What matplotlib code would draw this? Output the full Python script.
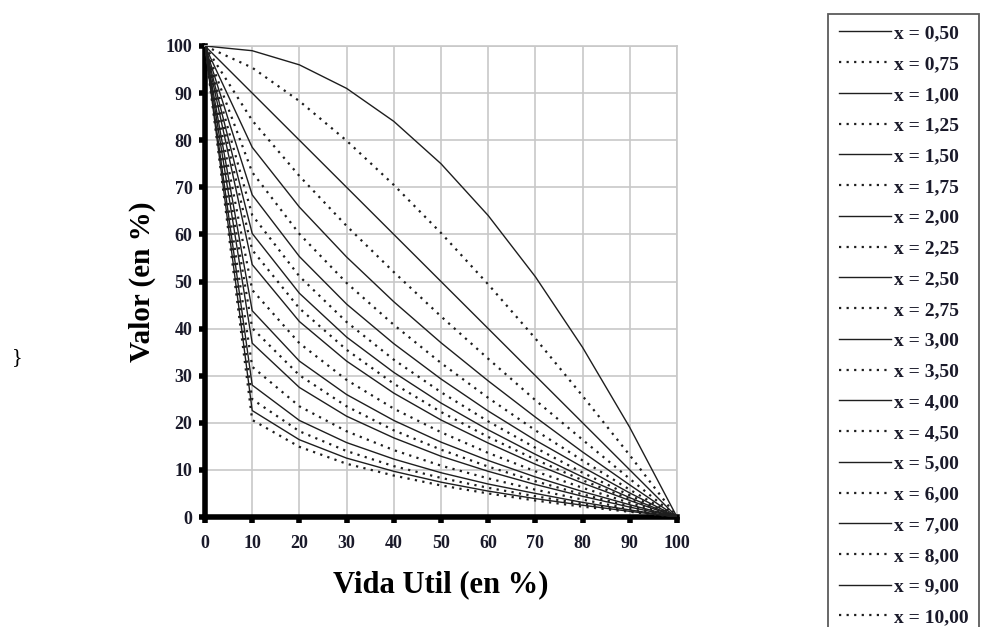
import matplotlib
matplotlib.use("Agg")
import matplotlib.pyplot as plt

plt.rcParams['font.family'] = ['Liberation Serif', 'DejaVu Serif']

vida_util = [0, 10, 20, 30, 40, 50, 60, 70, 80, 90, 100]

x_labels = ["0,50", "0,75", "1,00", "1,25", "1,50", "1,75", "2,00", "2,25", "2,50", "2,75",
            "3,00", "3,50", "4,00", "4,50", "5,00", "6,00", "7,00", "8,00", "9,00", "10,00"]

v_050 = [100, 99.0, 96.0, 91.0, 84.0, 75.0, 64.0, 51.0, 36.0, 19.0, 0]
v_075 = [100, 95.4, 88.3, 79.9, 70.5, 60.3, 49.4, 37.9, 25.7, 13.1, 0]
v_100 = [100, 90.0, 80.0, 70.0, 60.0, 50.0, 40.0, 30.0, 20.0, 10.0, 0]
v_125 = [100, 84.2, 72.4, 61.8, 52.0, 42.6, 33.6, 24.8, 16.4, 8.1, 0]
v_150 = [100, 78.5, 65.8, 55.2, 45.7, 37.0, 28.9, 21.2, 13.8, 6.8, 0]
v_175 = [100, 73.2, 60.1, 49.7, 40.8, 32.7, 25.3, 18.4, 12.0, 5.8, 0]
v_200 = [100, 68.4, 55.3, 45.2, 36.8, 29.3, 22.5, 16.3, 10.6, 5.1, 0]
v_225 = [100, 64.1, 51.1, 41.4, 33.4, 26.5, 20.3, 14.7, 9.4, 4.6, 0]
v_250 = [100, 60.2, 47.5, 38.2, 30.7, 24.2, 18.5, 13.3, 8.5, 4.1, 0]
v_275 = [100, 56.7, 44.3, 35.5, 28.3, 22.3, 17.0, 12.2, 7.8, 3.8, 0]
v_300 = [100, 53.6, 41.5, 33.1, 26.3, 20.6, 15.7, 11.2, 7.2, 3.5, 0]
v_350 = [100, 48.2, 36.9, 29.1, 23.0, 18.0, 13.6, 9.7, 6.2, 3.0, 0]
v_400 = [100, 43.8, 33.1, 26.0, 20.5, 15.9, 12.0, 8.5, 5.4, 2.6, 0]
v_450 = [100, 40.1, 30.1, 23.5, 18.4, 14.3, 10.7, 7.6, 4.8, 2.3, 0]
v_500 = [100, 36.9, 27.5, 21.4, 16.8, 12.9, 9.7, 6.9, 4.4, 2.1, 0]
v_600 = [100, 31.9, 23.5, 18.2, 14.2, 10.9, 8.2, 5.8, 3.7, 1.7, 0]
v_700 = [100, 28.0, 20.5, 15.8, 12.3, 9.4, 7.0, 5.0, 3.1, 1.5, 0]
v_800 = [100, 25.0, 18.2, 14.0, 10.8, 8.3, 6.2, 4.4, 2.8, 1.3, 0]
v_900 = [100, 22.6, 16.4, 12.5, 9.7, 7.4, 5.5, 3.9, 2.5, 1.2, 0]
v_1000 = [100, 20.6, 14.9, 11.3, 8.8, 6.7, 5.0, 3.5, 2.2, 1.1, 0]

series = [v_050, v_075, v_100, v_125, v_150, v_175, v_200, v_225, v_250, v_275,
          v_300, v_350, v_400, v_450, v_500, v_600, v_700, v_800, v_900, v_1000]

fig = plt.figure(figsize=(9.84, 6.27), dpi=100)
ax = fig.add_axes([205/984, 1-517/627, 472/984, 471/627])

line_color = '#1e1e1e'
handles = []
for i, (vals, lab) in enumerate(zip(series, x_labels)):
    if i % 2 == 0:
        ln, = ax.plot(vida_util, vals, color=line_color, lw=1.0,
                      linestyle='-', label=f"x = {lab}", zorder=3)
    else:
        ln, = ax.plot(vida_util, vals, color=line_color, lw=1.6,
                      linestyle=(0, (1, 2.4)), label=f"x = {lab}", zorder=3)
    handles.append(ln)

ax.set_xlim(0, 100)
ax.set_ylim(0, 100)
ax.set_xticks(range(0, 101, 10))
ax.set_yticks(range(0, 101, 10))
ax.grid(True, color='#c8c8c8', lw=1.2, zorder=0)
ax.set_axisbelow(True)
for s in ['top', 'right']:
    ax.spines[s].set_color('#c8c8c8')
    ax.spines[s].set_linewidth(1.2)
for s in ['left', 'bottom']:
    ax.spines[s].set_color('black')
    ax.spines[s].set_linewidth(4)
ax.tick_params(direction='out', length=4, width=4, color='black', pad=5,
               labelsize=13)
ax.tick_params(axis='x', pad=9)
for t in ax.get_xticklabels() + ax.get_yticklabels():
    t.set_fontweight('bold')
    t.set_color('#1a1a2a')

ax.set_xlabel("Vida Util (en %)", fontsize=22, fontweight='bold', labelpad=13)
ax.set_ylabel("Valor (en %)", fontsize=21, fontweight='bold', labelpad=7)

fig.text(12/984, 1-358/627, "}", fontsize=16, ha='left', va='center')

leg = fig.legend(handles=handles, loc='upper left',
                 bbox_to_anchor=(828/984, 1-14/627),
                 prop={'family': 'Liberation Serif', 'weight': 'bold', 'size': 14},
                 frameon=True, fancybox=False, edgecolor='#333333',
                 handlelength=2.7, handletextpad=0.12, labelspacing=0.675,
                 borderpad=0.55, borderaxespad=0)
leg.get_frame().set_linewidth(1.3)
for t in leg.get_texts():
    t.set_color('#1a1a2a')
    t.set_fontweight('bold')

fig.savefig("out.png", dpi=100)
